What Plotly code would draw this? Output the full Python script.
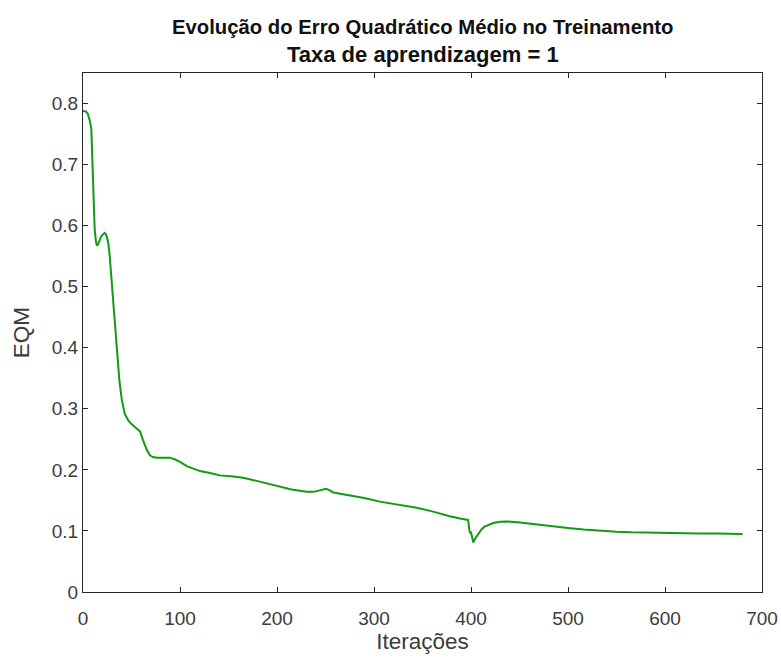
import plotly.graph_objects as go

# Iterations (x) and mean squared error (y)
iteracoes = [0, 3, 5, 7, 8.6, 10.3, 12, 13.4, 14.4, 16, 18, 20, 22.3, 24, 26, 27.5,
             29, 32, 35, 37.5, 40, 43, 46.7, 50, 55, 58.8, 62, 66, 69, 72, 76,
             82, 89.7, 95, 100, 107, 115, 120.6, 131, 141, 155, 165, 179, 190,
             203, 215, 230.6, 237.5, 243, 247, 250.5, 254, 258, 268, 278.7, 290,
             306, 325, 344, 360, 378, 390, 397, 398.5, 399.3, 399.8, 400.5, 402.4,
             404, 407.5, 411, 414, 418, 423, 430, 437, 450.5, 465, 481, 500, 516,
             535, 550, 565, 584.5, 600, 619, 635, 653, 668, 680]
eqm = [0.788, 0.787, 0.783, 0.772, 0.758, 0.676, 0.595, 0.573, 0.567, 0.571, 0.580, 0.585, 0.588, 0.585, 0.572, 0.551,
       0.52, 0.46, 0.39, 0.346, 0.315, 0.292, 0.281, 0.275, 0.268, 0.263, 0.248, 0.232, 0.224, 0.221, 0.220,
       0.220, 0.220, 0.217, 0.213, 0.206, 0.201, 0.198, 0.195, 0.191, 0.189, 0.187, 0.182, 0.178,
       0.172, 0.168, 0.164, 0.164, 0.166, 0.168, 0.169, 0.167, 0.163, 0.160, 0.157, 0.154,
       0.148, 0.143, 0.138, 0.132, 0.124, 0.120, 0.118, 0.100, 0.096, 0.099, 0.093, 0.081,
       0.087, 0.096, 0.103, 0.107, 0.110, 0.113, 0.115, 0.1155, 0.114, 0.111, 0.108, 0.105, 0.1025,
       0.100, 0.0986, 0.0977, 0.097, 0.0965, 0.0962, 0.096, 0.096, 0.0955, 0.0948]

x_ticks = [0, 100, 200, 300, 400, 500, 600, 700]
y_ticks = [0, 0.1, 0.2, 0.3, 0.4, 0.5, 0.6, 0.7, 0.8]
y_tick_labels = ["0", "0.1", "0.2", "0.3", "0.4", "0.5", "0.6", "0.7", "0.8"]
title_lines = ["Evolução do Erro Quadrático Médio no Treinamento", "Taxa de aprendizagem = 1"]

FONT = "Liberation Sans, Arial, sans-serif"
AX = "#262626"
TXT = "#3c3c3c"

fig = go.Figure()
fig.add_trace(go.Scatter(x=iteracoes, y=eqm, mode="lines",
                         line=dict(color="#139a13", width=2), showlegend=False))

PLOT_TOP, PLOT_BOT = 73, 592
H = PLOT_BOT - PLOT_TOP

fig.update_layout(
    width=781, height=659,
    margin=dict(l=83, r=19, t=PLOT_TOP, b=659 - PLOT_BOT),
    paper_bgcolor="white", plot_bgcolor="white",
    font=dict(family=FONT, color=TXT, size=19),
)
for txt, ypx, sz in [(title_lines[0], 27, 20.3), (title_lines[1], 55, 22)]:
    fig.add_annotation(text="<b>" + txt + "</b>", xref="paper", yref="paper",
                       x=0.5, y=(PLOT_BOT - ypx) / H, xanchor="center", yanchor="middle",
                       showarrow=False, font=dict(family=FONT, size=sz, color="#111111"))

fig.update_xaxes(range=[0, 700], tickvals=x_ticks, ticks="inside", ticklen=5,
                 showline=True, linecolor=AX, linewidth=1, mirror="ticks",
                 showgrid=False, zeroline=False, tickcolor=AX, automargin=False,
                 ticklabelstandoff=9,
                 tickfont=dict(size=19, color=TXT),
                 title=dict(text="Iterações", font=dict(size=22.5, color=TXT), standoff=5))
fig.update_yaxes(range=[0, 0.85], tickvals=y_ticks, ticktext=y_tick_labels,
                 ticks="inside", ticklen=5, automargin=False,
                 showline=True, linecolor=AX, linewidth=1, mirror="ticks",
                 showgrid=False, zeroline=False, tickcolor=AX,
                 tickfont=dict(size=19, color=TXT),
                 title=dict(text="EQM", font=dict(size=22.5, color=TXT), standoff=15))

fig.write_html("out.html")
